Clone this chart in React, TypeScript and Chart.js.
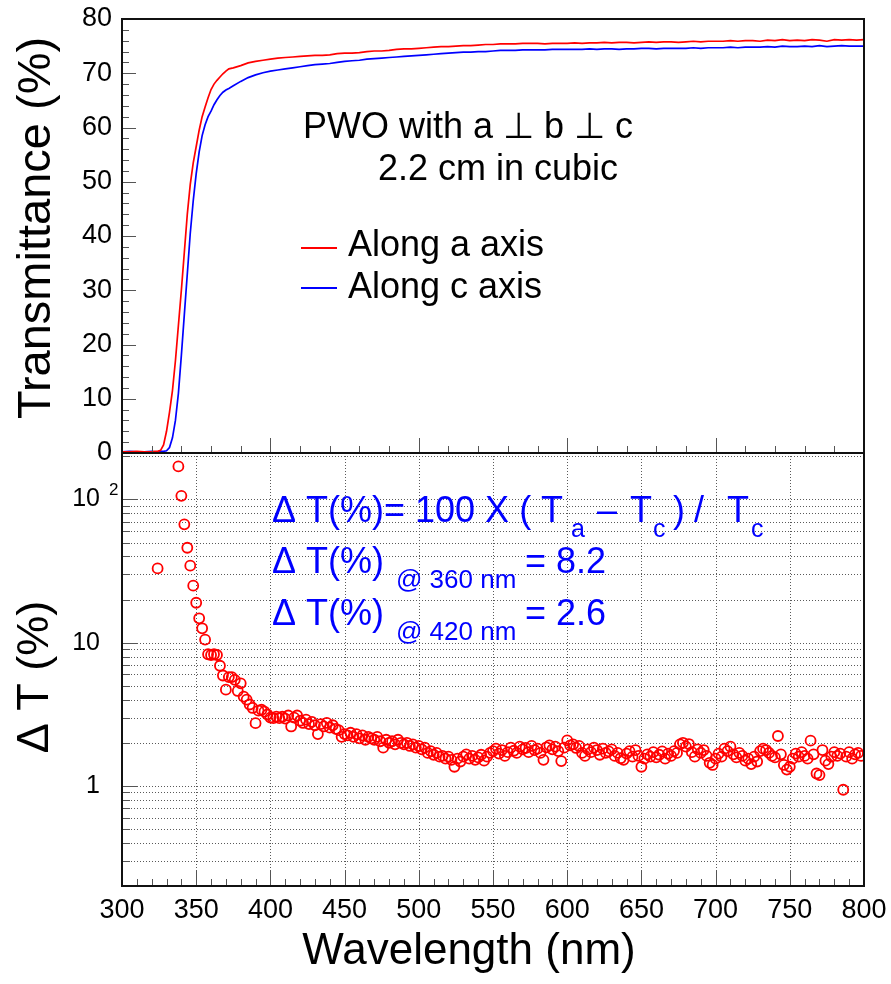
import React, { useEffect, useRef } from 'react';
import { Chart, registerables } from 'chart.js';

Chart.register(...registerables);

const FONT = '"Liberation Sans", Arial, Helvetica, sans-serif';

// ---------- Transmittance (top panel) ----------
const WAVELENGTH_T = [
  300, 305, 310, 315, 320,
  322, 324, 326, 328, 330, 332, 334, 336, 338, 340, 342, 344, 346, 348, 350, 352, 354, 356, 358, 360, 362, 364, 366, 368, 370, 372,
  375, 380, 385, 390, 395, 400, 405, 410, 415, 420,
  425, 430, 435, 440, 445, 450, 455, 460, 465, 470,
  475, 480, 485, 490, 495, 500, 505, 510, 515, 520,
  525, 530, 535, 540, 545, 550, 555, 560, 565, 570,
  575, 580, 585, 590, 595, 600, 605, 610, 615, 620,
  625, 630, 635, 640, 645, 650, 655, 660, 665, 670,
  675, 680, 685, 690, 695, 700, 705, 710, 715, 720,
  725, 730, 735, 740, 745, 750, 755, 760, 765, 770,
  775, 780, 785, 790, 795, 800,
];

const T_ALONG_A = [
  0.2, 0.2, 0.3, 0.2, 0.2,
  0.3, 0.3, 0.5, 1.5, 4.0, 7.5, 11.5, 17.0, 23.5, 30.0, 37.0, 44.0, 49.5, 53.5, 56.5, 59.5, 62.0, 63.8, 65.5, 67.0, 68.0, 68.7, 69.3, 69.9, 70.4, 70.8,
  71.0, 71.4, 71.9, 72.2, 72.4, 72.6, 72.8, 72.9, 73.0, 73.1,
  73.2, 73.3, 73.3, 73.4, 73.6, 73.7, 73.7, 73.8, 74.0, 74.1,
  74.1, 74.2, 74.4, 74.5, 74.5, 74.6, 74.7, 74.8, 74.9, 74.9,
  75.0, 75.1, 75.1, 75.2, 75.3, 75.3, 75.4, 75.4, 75.4, 75.5,
  75.5, 75.5, 75.4, 75.5, 75.5, 75.5, 75.6, 75.5, 75.6, 75.6,
  75.7, 75.6, 75.7, 75.7, 75.6, 75.7, 75.8, 75.7, 75.8, 75.8,
  75.7, 75.8, 75.9, 75.8, 75.9, 75.9, 75.9, 76.0, 75.9, 76.0,
  76.0, 75.9, 76.1, 76.0, 76.2, 76.0, 76.1, 76.0, 76.2, 76.1,
  75.9, 76.2, 76.1, 76.2, 76.1, 76.2,
];

const T_ALONG_C = [
  0.2, 0.3, 0.2, 0.2, 0.3,
  0.2, 0.2, 0.3, 0.3, 0.4, 1.0, 2.8, 6.0, 11.0, 18.0, 25.5, 33.0, 40.5, 46.5, 51.5, 55.5, 58.5, 60.5, 62.0, 63.0, 64.2, 65.1, 65.9, 66.5, 66.9, 67.2,
  67.7, 68.5, 69.2, 69.7, 70.1, 70.4, 70.6, 70.8, 71.0, 71.2,
  71.4, 71.6, 71.7, 71.8, 72.0, 72.2, 72.3, 72.4, 72.6, 72.7,
  72.8, 72.9, 73.0, 73.1, 73.2, 73.3, 73.4, 73.5, 73.6, 73.7,
  73.8, 73.9, 73.9, 74.0, 74.0, 74.1, 74.2, 74.2, 74.2, 74.3,
  74.3, 74.3, 74.3, 74.4, 74.4, 74.4, 74.4, 74.4, 74.5, 74.4,
  74.5, 74.5, 74.4, 74.5, 74.5, 74.6, 74.6, 74.5, 74.6, 74.6,
  74.6, 74.6, 74.7, 74.6, 74.7, 74.7, 74.7, 74.8, 74.7, 74.8,
  74.8, 74.8, 74.9, 74.8, 75.0, 74.9, 74.9, 75.0, 74.9, 75.1,
  74.9, 75.0, 75.1, 75.0, 75.0, 75.0,
];

// ---------- Delta T (bottom panel) ----------
const WAVELENGTH_DT = [
  324,
  338, 340, 342, 344, 346, 348, 350, 352, 354, 356,
  358, 360, 362, 364, 366, 368, 370, 372, 374, 376,
  378, 380, 382, 384, 386, 388, 390, 392, 394, 396,
  398, 400, 402, 404, 406, 408, 410, 412, 414, 416,
  418, 420, 422, 424, 426, 428, 430, 432, 434, 436,
  438, 440, 442, 444, 446, 448, 450, 452, 454, 456,
  458, 460, 462, 464, 466, 468, 470, 472, 474, 476,
  478, 480, 482, 484, 486, 488, 490, 492, 494, 496,
  498, 500, 502, 504, 506, 508, 510, 512, 514, 516,
  518, 520, 522, 524, 526, 528, 530, 532, 534, 536,
  538, 540, 542, 544, 546, 548, 550, 552, 554, 556,
  558, 560, 562, 564, 566, 568, 570, 572, 574, 576,
  578, 580, 582, 584, 586, 588, 590, 592, 594, 596,
  598, 600, 602, 604, 606, 608, 610, 612, 614, 616,
  618, 620, 622, 624, 626, 628, 630, 632, 634, 636,
  638, 640, 642, 644, 646, 648, 650, 652, 654, 656,
  658, 660, 662, 664, 666, 668, 670, 672, 674, 676,
  678, 680, 682, 684, 686, 688, 690, 692, 694, 696,
  698, 700, 702, 704, 706, 708, 710, 712, 714, 716,
  718, 720, 722, 724, 726, 728, 730, 732, 734, 736,
  738, 740, 742, 744, 746, 748, 750, 752, 754, 756,
  758, 760, 762, 764, 766, 768, 770, 772, 774, 776,
  778, 780, 782, 784, 786, 788, 790, 792, 794, 796,
  798,
];

const DELTA_T = [
  33,
  170, 106, 67, 46, 34.5, 25, 19, 14.8, 12.6, 10.5,
  8.3, 8.2, 8.3, 8.2, 6.9, 5.9, 4.7, 5.75, 5.75, 5.5,
  4.6, 5.2, 4.2, 4.0, 3.7, 3.5, 2.74, 3.35, 3.4, 3.3,
  3.15, 3.0, 2.97, 3.05, 2.97, 3.04, 2.95, 3.1, 2.6, 3.0,
  3.1, 2.85, 2.75, 2.9, 2.7, 2.8, 2.65, 2.3, 2.7, 2.6,
  2.75, 2.55, 2.65, 2.5, 2.45, 2.2, 2.3, 2.25, 2.35, 2.2,
  2.3, 2.15, 2.25, 2.1, 2.2, 2.15, 2.1, 2.2, 2.05, 1.85,
  2.1, 2.0, 2.05, 1.95, 2.1, 2.0, 1.95, 2.0, 1.9, 1.95,
  1.85, 1.9, 1.8, 1.85, 1.7, 1.75, 1.65, 1.7, 1.6, 1.62,
  1.55, 1.6, 1.52, 1.36, 1.55, 1.48, 1.6, 1.66, 1.55, 1.62,
  1.52, 1.58, 1.65, 1.5, 1.6, 1.7, 1.75, 1.82, 1.68, 1.78,
  1.62, 1.72, 1.85, 1.76, 1.7, 1.88, 1.8, 1.84, 1.72, 1.9,
  1.78, 1.82, 1.7, 1.52, 1.86, 1.92, 1.8, 1.88, 1.75, 1.49,
  1.85, 2.08, 1.92, 1.95, 1.84, 1.9, 1.7, 1.62, 1.8, 1.72,
  1.85, 1.78, 1.65, 1.82, 1.7, 1.74, 1.8, 1.62, 1.7, 1.56,
  1.52, 1.68, 1.75, 1.6, 1.78, 1.62, 1.36, 1.55, 1.66, 1.6,
  1.72, 1.58, 1.65, 1.74, 1.55, 1.68, 1.62, 1.75, 1.7, 1.95,
  2.0, 1.88, 1.96, 1.72, 1.6, 1.8, 1.7, 1.78, 1.62, 1.45,
  1.4, 1.55, 1.68, 1.6, 1.82, 1.75, 1.88, 1.66, 1.58, 1.7,
  1.62, 1.5, 1.55, 1.42, 1.6, 1.48, 1.75, 1.82, 1.78, 1.7,
  1.62, 1.58, 2.23, 1.66, 1.4, 1.3, 1.36, 1.55, 1.68, 1.6,
  1.72, 1.62, 1.55, 2.07, 1.66, 1.22, 1.19, 1.78, 1.5, 1.42,
  1.6, 1.72, 1.62, 1.68, 0.94, 1.6, 1.72, 1.55, 1.66, 1.7,
  1.62,
];

// ---------- axes ----------
const X_MIN = 300;
const X_MAX = 800;
const X_LABEL_STEP = 50;
const X_TOP_MAJOR = 100;
const X_TOP_MINOR = 20;
const X_BOTTOM_MINOR = 10;
const T_MIN = 0;
const T_MAX = 80;
const T_MAJOR = 10;
const T_MINOR = 2;
const DT_MIN = 0.2;
const DT_MAX = 211;
const DT_TICKS = [0.3, 0.4, 0.5, 0.6, 0.7, 0.8, 0.9, 1, 2, 3, 4, 5, 6, 7, 8, 9, 10, 20, 30, 40, 50, 60, 70, 80, 90, 100, 200];
const DT_LABELS: Record<string, string> = { '1': '1', '10': '10', '100': '10' };

const RED = '#ff0000';
const BLUE = '#0000ff';

// canvas placement on the page
const TOP_CANVAS_Y = -8;
const TOP_CANVAS_H = 488;
const BOT_CANVAS_Y = 415;
const BOT_CANVAS_H = 569;

type Piece = [string, number, number, number]; // text, x(page), size, dy

function pieces(ctx: CanvasRenderingContext2D, oy: number, baseline: number, list: Piece[], color: string) {
  ctx.fillStyle = color;
  ctx.textAlign = 'left';
  ctx.textBaseline = 'alphabetic';
  for (const [t, x, size, dy] of list) {
    ctx.font = `${size}px ${FONT}`;
    ctx.fillText(t, x, baseline + dy - oy);
  }
}

const topDecor = {
  id: 'topDecor',
  afterDraw(chart: any) {
    const { ctx, chartArea: a, scales } = chart;
    const x = scales.x;
    const y = scales.y;
    const oy = TOP_CANVAS_Y;
    ctx.save();
    ctx.strokeStyle = '#555';
    ctx.lineWidth = 1;
    ctx.beginPath();
    for (let v = T_MIN; v <= T_MAX; v += T_MINOR) {
      const py = Math.round(y.getPixelForValue(v)) + 0.5;
      const len = v % T_MAJOR === 0 ? 14 : 7;
      ctx.moveTo(a.left, py);
      ctx.lineTo(a.left + len, py);
    }
    for (let v = X_MIN; v <= X_MAX; v += X_TOP_MINOR) {
      const px = Math.round(x.getPixelForValue(v)) + 0.5;
      const len = v % X_TOP_MAJOR === 0 ? 15 : 7;
      ctx.moveTo(px, a.bottom);
      ctx.lineTo(px, a.bottom - len);
    }
    ctx.stroke();
    ctx.strokeStyle = '#111';
    ctx.lineWidth = 2;
    ctx.strokeRect(a.left, a.top, a.right - a.left, a.bottom - a.top);

    // y title
    ctx.save();
    ctx.translate(50, 228 - oy);
    ctx.rotate(-Math.PI / 2);
    ctx.fillStyle = '#000';
    ctx.font = `47px ${FONT}`;
    ctx.textAlign = 'center';
    ctx.textBaseline = 'alphabetic';
    ctx.fillText('Transmittance (%)', 0, 0);
    ctx.restore();

    // annotation
    pieces(ctx, oy, 138, [['PWO with a \u22A5 b \u22A5 c', 303, 36, 0]], '#000');
    pieces(ctx, oy, 180, [['2.2 cm in cubic', 378, 36, 0]], '#000');

    // legend
    ctx.lineWidth = 2;
    ctx.strokeStyle = RED;
    ctx.beginPath();
    ctx.moveTo(301, 248 - oy);
    ctx.lineTo(337, 248 - oy);
    ctx.stroke();
    ctx.strokeStyle = BLUE;
    ctx.beginPath();
    ctx.moveTo(301, 288 - oy);
    ctx.lineTo(337, 288 - oy);
    ctx.stroke();
    pieces(ctx, oy, 256, [['Along a axis', 348, 36, 0]], '#000');
    pieces(ctx, oy, 298, [['Along c axis', 348, 36, 0]], '#000');
    ctx.restore();
  },
};

const bottomDecor = {
  id: 'bottomDecor',
  beforeDatasetsDraw(chart: any) {
    const { ctx, chartArea: a, scales } = chart;
    const x = scales.x;
    const y = scales.y;
    ctx.save();
    ctx.strokeStyle = '#5a5a5a';
    ctx.lineWidth = 1;
    ctx.setLineDash([1, 2]);
    ctx.beginPath();
    for (let v = X_MIN + X_LABEL_STEP; v < X_MAX; v += X_LABEL_STEP) {
      const px = Math.round(x.getPixelForValue(v)) + 0.5;
      ctx.moveTo(px, a.top);
      ctx.lineTo(px, a.bottom);
    }
    for (const v of DT_TICKS) {
      const py = Math.round(y.getPixelForValue(v)) + 0.5;
      ctx.moveTo(a.left, py);
      ctx.lineTo(a.right, py);
    }
    ctx.stroke();
    ctx.restore();
  },
  afterDraw(chart: any) {
    const { ctx, chartArea: a, scales } = chart;
    const x = scales.x;
    const y = scales.y;
    const oy = BOT_CANVAS_Y;
    ctx.save();
    ctx.strokeStyle = '#555';
    ctx.lineWidth = 1;
    ctx.beginPath();
    for (const v of DT_TICKS) {
      const py = Math.round(y.getPixelForValue(v)) + 0.5;
      const major = v === 1 || v === 10 || v === 100;
      ctx.moveTo(a.left, py);
      ctx.lineTo(a.left + (major ? 15 : 8), py);
    }
    for (let v = X_MIN; v <= X_MAX; v += X_BOTTOM_MINOR) {
      const px = Math.round(x.getPixelForValue(v)) + 0.5;
      const len = v % X_LABEL_STEP === 0 ? 15 : 7;
      ctx.moveTo(px, a.bottom);
      ctx.lineTo(px, a.bottom - len);
    }
    ctx.stroke();
    ctx.strokeStyle = '#111';
    ctx.lineWidth = 2;
    ctx.strokeRect(a.left, a.top, a.right - a.left, a.bottom - a.top);

    // superscript of the 10^2 label
    const p100 = y.getPixelForValue(100);
    ctx.fillStyle = '#000';
    ctx.font = `17px ${FONT}`;
    ctx.textAlign = 'left';
    ctx.textBaseline = 'alphabetic';
    ctx.fillText('2', 109, p100 - 4);

    // y title
    ctx.save();
    ctx.translate(48, 677 - oy);
    ctx.rotate(-Math.PI / 2);
    ctx.font = `45px ${FONT}`;
    ctx.textAlign = 'center';
    ctx.fillText('\u0394 T (%)', 0, 0);
    ctx.restore();

    // x title
    ctx.font = `44px ${FONT}`;
    ctx.textAlign = 'center';
    ctx.fillText('Wavelength (nm)', 469, 964 - oy);

    // formulas
    pieces(ctx, oy, 522, [
      ['\u0394 T(%)= 100 X ( T', 272, 36, 0],
      ['a', 571, 25, 15],
      ['\u2013', 597, 36, 0],
      ['T', 630, 36, 0],
      ['c', 653, 25, 15],
      [')', 673, 36, 0],
      ['/', 694, 36, 0],
      ['T', 727, 36, 0],
      ['c', 751, 25, 15],
    ], BLUE);
    pieces(ctx, oy, 573, [
      ['\u0394 T(%)', 272, 36, 0],
      ['@ 360 nm', 396, 26, 15],
      ['=', 525, 36, 0],
      ['8.2', 556, 36, 0],
    ], BLUE);
    pieces(ctx, oy, 625, [
      ['\u0394 T(%)', 272, 36, 0],
      ['@ 420 nm', 396, 26, 15],
      ['=', 525, 36, 0],
      ['2.6', 556, 36, 0],
    ], BLUE);
    ctx.restore();
  },
};

export default function App() {
  const topRef = useRef<HTMLCanvasElement>(null);
  const botRef = useRef<HTMLCanvasElement>(null);

  useEffect(() => {
    const topChart = new Chart(topRef.current as HTMLCanvasElement, {
      type: 'line',
      data: {
        datasets: [
          {
            label: 'Along a axis',
            data: WAVELENGTH_T.map((w, i) => ({ x: w, y: T_ALONG_A[i] })),
            borderColor: RED,
            borderWidth: 1.7,
            pointRadius: 0,
            fill: false,
            tension: 0,
          },
          {
            label: 'Along c axis',
            data: WAVELENGTH_T.map((w, i) => ({ x: w, y: T_ALONG_C[i] })),
            borderColor: BLUE,
            borderWidth: 1.7,
            pointRadius: 0,
            fill: false,
            tension: 0,
          },
        ],
      },
      options: {
        responsive: false,
        maintainAspectRatio: false,
        animation: false,
        layout: { padding: { left: 0, top: 27, right: 27, bottom: 27 } },
        plugins: { legend: { display: false }, tooltip: { enabled: false } },
        scales: {
          x: { type: 'linear', min: X_MIN, max: X_MAX, display: false },
          y: {
            type: 'linear',
            min: T_MIN,
            max: T_MAX,
            grid: { display: false, drawTicks: false },
            border: { display: false },
            ticks: { stepSize: T_MAJOR, color: '#000', font: { family: FONT, size: 27 }, padding: 10 },
            afterFit: (s: any) => { s.width = 122; },
          },
        },
      },
      plugins: [topDecor],
    } as any);

    const botChart = new Chart(botRef.current as HTMLCanvasElement, {
      type: 'scatter',
      data: {
        datasets: [
          {
            label: 'Delta T',
            data: WAVELENGTH_DT.map((w, i) => ({ x: w, y: DELTA_T[i] })),
            borderColor: RED,
            backgroundColor: 'rgba(0,0,0,0)',
            borderWidth: 1.8,
            pointRadius: 5,
            pointStyle: 'circle',
          },
        ],
      },
      options: {
        responsive: false,
        maintainAspectRatio: false,
        animation: false,
        layout: { padding: { left: 0, top: 38, right: 31, bottom: 0 } },
        plugins: { legend: { display: false }, tooltip: { enabled: false } },
        scales: {
          x: {
            type: 'linear',
            min: X_MIN,
            max: X_MAX,
            grid: { display: false, drawTicks: false },
            border: { display: false },
            ticks: { stepSize: X_LABEL_STEP, color: '#000', font: { family: FONT, size: 27 }, padding: 8, maxRotation: 0, autoSkip: false },
            afterFit: (s: any) => { s.height = 98; },
          },
          y: {
            type: 'logarithmic',
            min: DT_MIN,
            max: DT_MAX,
            grid: { display: false, drawTicks: false },
            border: { display: false },
            afterBuildTicks: (s: any) => { s.ticks = DT_TICKS.map((v) => ({ value: v, major: false })); },
            ticks: {
              autoSkip: false,
              color: '#000',
              font: { family: FONT, size: 25 },
              padding: 22,
              callback: (v: any) => DT_LABELS[String(v)] ?? '',
            },
            afterFit: (s: any) => { s.width = 122; },
          },
        },
      },
      plugins: [bottomDecor],
    } as any);

    return () => {
      topChart.destroy();
      botChart.destroy();
    };
  }, []);

  return (
    <div style={{ position: 'absolute', left: 0, top: 0, width: 891, height: 984, background: '#fff', overflow: 'hidden' }}>
      <canvas ref={botRef} width={895} height={BOT_CANVAS_H} style={{ position: 'absolute', left: 0, top: BOT_CANVAS_Y }} />
      <canvas ref={topRef} width={891} height={TOP_CANVAS_H} style={{ position: 'absolute', left: 0, top: TOP_CANVAS_Y }} />
    </div>
  );
}
